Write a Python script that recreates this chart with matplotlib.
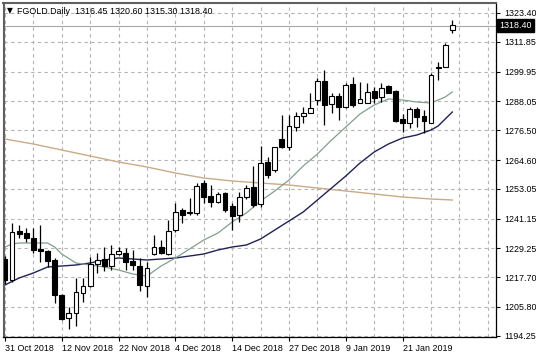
#!/usr/bin/env python3
"""Daily FGOLD candles with three moving averages, MetaTrader style."""

import matplotlib
matplotlib.use("Agg")
import matplotlib.pyplot as plt
from matplotlib.transforms import blended_transform_factory

plt.rcParams["font.family"] = ["Liberation Sans", "DejaVu Sans"]

# candle data, one bar per trading day
opens = [1225.0, 1216.6, 1236.2, 1235.4, 1233.4, 1229.0, 1228.2, 1224.6, 1210.6, 1201.4,
         1203.4, 1211.4, 1214.2, 1223.0, 1225.0, 1222.2, 1227.0, 1227.4, 1224.2, 1222.2,
         1214.2, 1227.0, 1229.8, 1227.0, 1236.6, 1244.6, 1243.4, 1243.4, 1255.4, 1250.2,
         1247.8, 1251.4, 1246.2, 1242.6, 1249.8, 1253.8, 1247.0, 1263.8, 1260.6, 1273.0,
         1269.8, 1277.8, 1282.2, 1283.4, 1288.6, 1296.2, 1287.0, 1290.2, 1285.8, 1295.0,
         1287.4, 1287.4, 1292.2, 1289.8, 1294.2, 1292.2, 1281.0, 1279.4, 1285.0, 1282.2,
         1279.4, 1301.6, 1301.8, 1316.45]
highs = [1226.2, 1239.4, 1238.6, 1237.4, 1237.4, 1238.6, 1228.6, 1225.4, 1211.0, 1205.8,
         1217.4, 1217.4, 1225.8, 1227.4, 1229.8, 1230.6, 1229.8, 1229.4, 1228.6, 1225.4,
         1223.8, 1234.6, 1232.6, 1240.6, 1247.4, 1245.4, 1249.4, 1255.4, 1256.6, 1254.6,
         1251.8, 1251.8, 1247.4, 1251.8, 1254.6, 1262.2, 1270.2, 1265.8, 1269.8, 1282.6,
         1282.6, 1283.8, 1285.8, 1291.4, 1297.4, 1300.6, 1291.4, 1291.4, 1295.4, 1297.8,
         1295.8, 1295.4, 1293.8, 1295.4, 1294.6, 1292.6, 1283.0, 1285.8, 1285.8, 1284.6,
         1299.4, 1303.8, 1311.4, 1320.60]
lows = [1215.0, 1215.8, 1233.4, 1231.8, 1227.4, 1223.8, 1221.8, 1207.4, 1200.6, 1197.0,
        1198.2, 1207.8, 1213.8, 1219.4, 1220.2, 1220.6, 1226.6, 1220.6, 1220.6, 1212.2,
        1209.8, 1226.6, 1227.0, 1226.6, 1235.8, 1239.4, 1242.8, 1242.6, 1247.4, 1245.8,
        1247.4, 1243.8, 1236.6, 1239.8, 1249.0, 1245.8, 1245.8, 1257.4, 1259.8, 1269.4,
        1268.6, 1276.2, 1279.4, 1283.4, 1286.6, 1278.6, 1283.4, 1280.6, 1285.4, 1285.8,
        1287.4, 1287.4, 1287.4, 1287.8, 1291.4, 1279.8, 1275.8, 1277.4, 1277.8, 1275.4,
        1279.4, 1296.6, 1301.8, 1315.30]
closes = [1216.6, 1235.8, 1235.0, 1233.4, 1228.6, 1228.2, 1224.2, 1210.6, 1201.0, 1203.4,
          1211.8, 1214.2, 1223.0, 1224.6, 1222.2, 1227.0, 1228.2, 1223.8, 1222.6, 1214.6,
          1221.4, 1229.8, 1227.4, 1236.2, 1243.8, 1242.6, 1243.8, 1254.2, 1249.8, 1247.8,
          1251.0, 1244.6, 1242.2, 1249.8, 1253.4, 1246.6, 1263.4, 1258.6, 1269.8, 1269.8,
          1278.2, 1282.2, 1283.4, 1285.4, 1296.2, 1286.6, 1290.2, 1285.8, 1294.6, 1286.6,
          1289.0, 1291.8, 1289.4, 1293.4, 1291.4, 1280.2, 1279.4, 1285.0, 1281.8, 1280.2,
          1298.6, 1302.0, 1310.6, 1318.40]

# moving averages at bar indices
fast_idx = [0, 1, 2, 4, 6, 7, 8, 10, 12, 14, 16, 18, 20, 22, 24, 26, 28, 30, 32, 34,
            36, 38, 40, 42, 44, 46, 48, 50, 52, 54, 56, 58, 60, 62, 63]
fast_ma = [1229.8, 1231.0, 1231.4, 1231.4, 1231.4, 1229.8, 1227.0, 1223.4, 1222.6, 1221.8,
           1220.6, 1219.0, 1218.2, 1222.2, 1225.4, 1229.0, 1232.6, 1235.4, 1239.8, 1243.4,
           1248.2, 1252.2, 1256.6, 1262.2, 1267.0, 1272.6, 1277.8, 1283.0, 1286.6, 1289.0,
           1288.6, 1287.8, 1287.4, 1289.8, 1291.8]
mid_idx = [0, 2, 4, 6, 8, 10, 12, 14, 16, 20, 24, 28, 30, 32, 34, 36, 38, 40, 42, 44,
           46, 48, 50, 52, 54, 56, 58, 60, 61, 62, 63]
mid_ma = [1214.6, 1217.4, 1219.4, 1221.8, 1222.2, 1222.6, 1223.4, 1224.6, 1225.4, 1224.6,
          1225.4, 1227.0, 1228.6, 1229.8, 1230.6, 1233.0, 1236.6, 1240.2, 1243.8, 1248.6,
          1253.4, 1258.2, 1263.4, 1267.8, 1271.0, 1273.4, 1274.6, 1276.6, 1278.2, 1281.0,
          1283.8]
slow_idx = [0, 4, 8, 12, 16, 20, 24, 28, 32, 36, 40, 44, 48, 52, 56, 60, 63]
slow_ma = [1273.0, 1271.0, 1268.6, 1266.2, 1263.8, 1261.8, 1259.4, 1257.4, 1256.2, 1255.4,
           1254.6, 1253.4, 1252.2, 1251.0, 1249.8, 1249.0, 1248.6]

price_ticks = [1323.40, 1311.85, 1299.95, 1288.05, 1276.50, 1264.60,
               1253.05, 1241.15, 1229.25, 1217.70, 1205.80, 1194.25]
date_labels = ["31 Oct 2018", "12 Nov 2018", "22 Nov 2018", "4 Dec 2018",
               "14 Dec 2018", "27 Dec 2018", "9 Jan 2019", "21 Jan 2019"]

W, H = 536, 358
fig = plt.figure(figsize=(W / 100, H / 100), dpi=100)
ax = fig.add_axes([3.5 / W, 1 - 337 / H, 492.5 / W, 334 / H])
ax.set_xlim(-0.2, 69.15)
ax.set_ylim(1193.8, 1327.4)

# grid first so candles sit on top
grid_kw = dict(color="#b4b4b4", lw=0.8, ls=(0, (3, 3)), zorder=0)
for i in range(0, 70, 4):
    ax.axvline(i, **grid_kw)
for p in price_ticks:
    ax.axhline(p, **grid_kw)

# last price line
ax.axhline(closes[-1], color="#a8a8a8", lw=0.8, zorder=1)

ax.plot(slow_idx, slow_ma, color="#c9ab87", lw=1.0, zorder=2)
ax.plot(mid_idx, mid_ma, color="#1f2257", lw=1.0, zorder=2)
ax.plot(fast_idx, fast_ma, color="#7fa08c", lw=0.9, zorder=2)

xs = list(range(len(opens)))
ax.vlines(xs, lows, highs, color="black", lw=0.9, zorder=3)
for x, o, c in zip(xs, opens, closes):
    bottom = min(o, c)
    height = max(abs(c - o), 0.3)
    face = "white" if c >= o else "black"
    ax.bar(x, height, bottom=bottom, width=0.68, color=face,
           edgecolor="black", linewidth=0.8, zorder=4)

# axes styling
ax.yaxis.tick_right()
ax.set_yticks(price_ticks)
ax.set_yticklabels([f"{p:.2f}" for p in price_ticks])
ax.set_xticks(list(range(0, 64, 8)))
ax.set_xticklabels(date_labels)
for lab in ax.get_xticklabels():
    lab.set_horizontalalignment("left")
ax.tick_params(axis="y", length=3, width=0.8, pad=3, labelsize=6.4, colors="black")
ax.tick_params(axis="x", length=3, width=0.8, pad=2, labelsize=6.4, colors="black")
for side in ("left", "top"):
    ax.spines[side].set_color("#606060")
    ax.spines[side].set_linewidth(1.5)
for side in ("right", "bottom"):
    ax.spines[side].set_color("black")
    ax.spines[side].set_linewidth(0.9)

# current price tag on the right axis
tr = blended_transform_factory(ax.transAxes, ax.transData)
ax.text(1.006, closes[-1], f"{closes[-1]:.2f}", transform=tr, ha="left", va="center",
        fontsize=6.4, color="white", zorder=6, clip_on=False,
        bbox=dict(boxstyle="square,pad=0.25", fc="black", ec="black"))

# header
fig.text(7 / W, 1 - 11 / H, "▼", fontsize=5.5, va="center", ha="left",
         family=["DejaVu Sans"])
fig.text(17 / W, 1 - 11 / H,
         f"FGOLD.Daily  {opens[-1]:.2f} {highs[-1]:.2f} {lows[-1]:.2f} {closes[-1]:.2f}",
         fontsize=6.4, va="center", ha="left")

fig.savefig("out.png", dpi=100, facecolor="white")
